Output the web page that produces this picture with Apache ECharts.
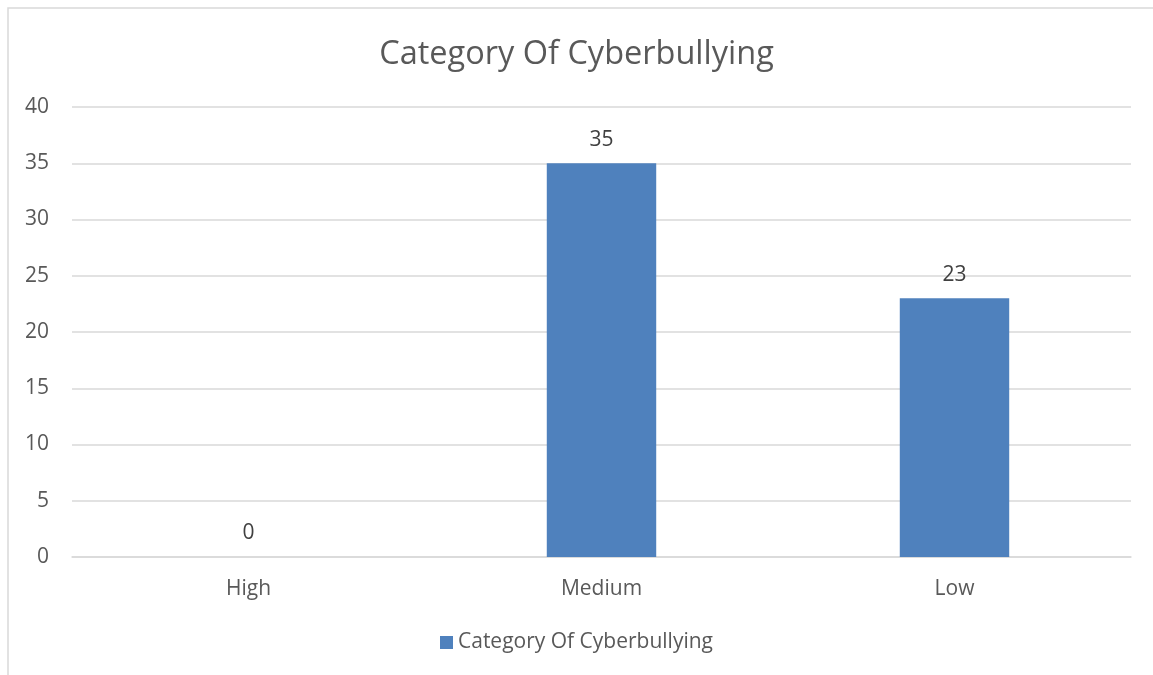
<!DOCTYPE html>
<html>
<head>
<meta charset="utf-8">
<script src="https://cdn.jsdelivr.net/npm/echarts@6/dist/echarts.min.js"></script>
<style>
html,body{margin:0;padding:0;background:#fff;}
#chart{width:1153px;height:675px;}
</style>
</head>
<body>
<div id="chart"></div>
<script>
const categories = ["High", "Medium", "Low"];
const values = [0, 35, 23];
const seriesName = "Category Of Cyberbullying";
const titleText = "Category Of Cyberbullying";

const chart = echarts.init(document.getElementById('chart'));
const font = "'Open Sans', 'Noto Sans', sans-serif";
chart.setOption({
  animation: false,
  backgroundColor: '#ffffff',
  graphic: [{
    type: 'rect',
    shape: {x: 8, y: 8, width: 1200, height: 700},
    style: {fill: 'none', stroke: '#d9d9d9', lineWidth: 1.5},
    silent: true, z: -1
  }],
  title: {
    text: titleText,
    left: 'center',
    top: 33,
    textStyle: {fontFamily: font, fontSize: 32.5, fontWeight: 'normal', color: '#595959'}
  },
  legend: {
    data: [seriesName],
    bottom: 17,
    left: 'center',
    icon: 'rect',
    itemWidth: 13,
    itemHeight: 13,
    itemGap: 6,
    textStyle: {fontFamily: font, fontSize: 21, color: '#595959'}
  },
  grid: {left: 72, right: 22, top: 107, bottom: 118, containLabel: false},
  xAxis: {
    type: 'category',
    data: categories,
    axisLine: {lineStyle: {color: '#d9d9d9', width: 1.5}},
    axisTick: {show: false},
    axisLabel: {fontFamily: font, fontSize: 21, color: '#595959', margin: 22}
  },
  yAxis: {
    type: 'value',
    min: 0, max: 40, interval: 5,
    axisLine: {show: false},
    axisTick: {show: false},
    splitLine: {lineStyle: {color: '#d9d9d9', width: 1.5}},
    axisLabel: {fontFamily: font, fontSize: 21, color: '#595959', margin: 23}
  },
  series: [{
    name: seriesName,
    type: 'bar',
    data: values,
    barWidth: '31%',
    itemStyle: {color: '#4f81bd'},
    label: {show: true, position: 'top', distance: 13, fontFamily: font, fontSize: 21, color: '#404040'}
  }]
});
</script>
</body>
</html>
